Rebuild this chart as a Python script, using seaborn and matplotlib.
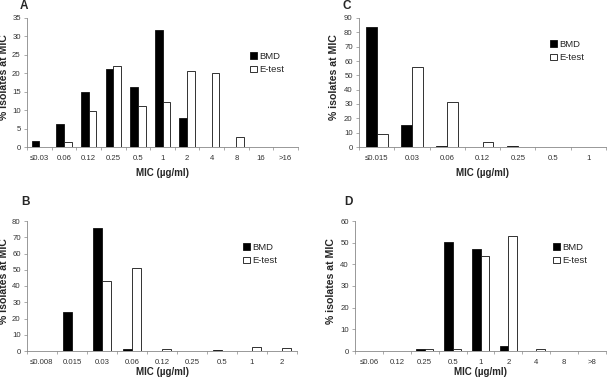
import matplotlib
matplotlib.use("Agg")
import matplotlib.pyplot as plt
import seaborn as sns
import pandas as pd
import numpy as np

sns.set_style("white")
plt.rcParams['font.family'] = ['Liberation Sans', 'DejaVu Sans']

series = ["BMD", "E-test"]

# Panel A
cats_a = ["≤0.03", "0.06", "0.12", "0.25", "0.5", "1", "2", "4", "8", "16", ">16"]
bmd_a = [1.7, 6.2, 15.0, 21.2, 16.3, 31.7, 8.0, 0, 0, 0, 0]
etest_a = [0, 1.3, 9.8, 22.1, 11.1, 12.3, 20.5, 20.2, 2.7, 0, 0]

# Panel C
cats_c = ["≤0.015", "0.03", "0.06", "0.12", "0.25", "0.5", "1"]
bmd_c = [84.0, 15.5, 0.9, 0, 0.5, 0, 0]
etest_c = [8.9, 55.6, 31.3, 3.8, 0, 0, 0]

# Panel B
cats_b = ["≤0.008", "0.015", "0.03", "0.06", "0.12", "0.25", "0.5", "1", "2"]
bmd_b = [0, 23.7, 75.5, 1.2, 0, 0, 0.6, 0, 0]
etest_b = [0, 0, 42.8, 51.3, 1.1, 0, 0, 2.4, 1.8]

# Panel D
cats_d = ["≤0.06", "0.12", "0.25", "0.5", "1", "2", "4", "8", ">8"]
bmd_d = [0, 0, 1.0, 50.1, 47.1, 2.2, 0, 0, 0]
etest_d = [0, 0, 1.0, 1.0, 43.8, 53.2, 1.0, 0, 0]

W, H = 608, 384
fig = plt.figure(figsize=(W / 100, H / 100), dpi=100)


def px_axes(l, t, r, b):
    return fig.add_axes([l / W, 1 - b / H, (r - l) / W, (b - t) / H])


def panel(ax, cats, bmd, etest, ymax, ystep, letter, letter_xy, leg_xy, ylab_x, xlab_y):
    df = pd.DataFrame({
        "MIC": cats * 2,
        "pct": list(bmd) + list(etest),
        "Method": [series[0]] * len(cats) + [series[1]] * len(cats),
    })
    sns.barplot(data=df, x="MIC", y="pct", hue="Method", order=cats,
                hue_order=series, palette=["black", "white"], width=0.62,
                gap=0, edgecolor="#111111", linewidth=0.6, ax=ax, errorbar=None)
    ax.set_xlim(-0.5, len(cats) - 0.5)
    ax.set_ylim(0, ymax)
    ax.set_yticks(np.arange(0, ymax + 0.01, ystep))
    ax.set_xticks(np.arange(-0.5, len(cats), 1.0), minor=True)
    ax.tick_params(axis="x", which="major", length=0, labelsize=5.6, pad=6,
                   colors="#333333")
    ax.tick_params(axis="x", which="minor", length=2.5, width=0.5, color="#888888",
                   direction="out", bottom=True)
    ax.tick_params(axis="y", length=2.5, width=0.5, color="#888888", labelsize=5.6,
                   left=True, pad=2)
    for lab in ax.get_yticklabels():
        lab.set_color("#333333")
    for s in ["top", "right"]:
        ax.spines[s].set_visible(False)
    for s in ["left", "bottom"]:
        ax.spines[s].set_color("#888888")
        ax.spines[s].set_linewidth(0.6)
    ax.set_xlabel("")
    ax.set_ylabel("")
    pos = ax.get_position()
    fig.text(ylab_x / W, (pos.y0 + pos.y1) / 2 + 5 / H, "% isolates at MIC", rotation=90,
             ha="center", va="center", fontsize=7.6, fontweight="bold")
    fig.text((pos.x0 + pos.x1) / 2, 1 - xlab_y / H, "MIC (µg/ml)",
             ha="center", va="center", fontsize=7.0, fontweight="bold")
    fig.text(letter_xy[0] / W, 1 - letter_xy[1] / H, letter, ha="center", va="center",
             fontsize=8.5, fontweight="bold")
    handles, labels = ax.get_legend_handles_labels()
    ax.legend(handles, labels, loc="upper left",
              bbox_to_anchor=(leg_xy[0] / W, 1 - leg_xy[1] / H),
              bbox_transform=fig.transFigure, frameon=False, fontsize=6.8,
              handlelength=0.7, handleheight=0.7, handletextpad=0.3,
              labelspacing=0.45, borderaxespad=0, borderpad=0)


axA = px_axes(27, 18, 298, 147)
panel(axA, cats_a, bmd_a, etest_a, 35, 5, "A", (24, 6), (250, 52), 4, 173)

axC = px_axes(359, 18, 606, 147)
panel(axC, cats_c, bmd_c, etest_c, 90, 10, "C", (347, 6), (550, 40), 334, 173)

axB = px_axes(27, 221, 297, 351)
panel(axB, cats_b, bmd_b, etest_b, 80, 10, "B", (25, 202), (243, 243), 4, 372)

axD = px_axes(355, 221, 606, 351)
panel(axD, cats_d, bmd_d, etest_d, 60, 10, "D", (348, 202), (553, 243), 331, 372)

fig.savefig("out.png", dpi=100)
